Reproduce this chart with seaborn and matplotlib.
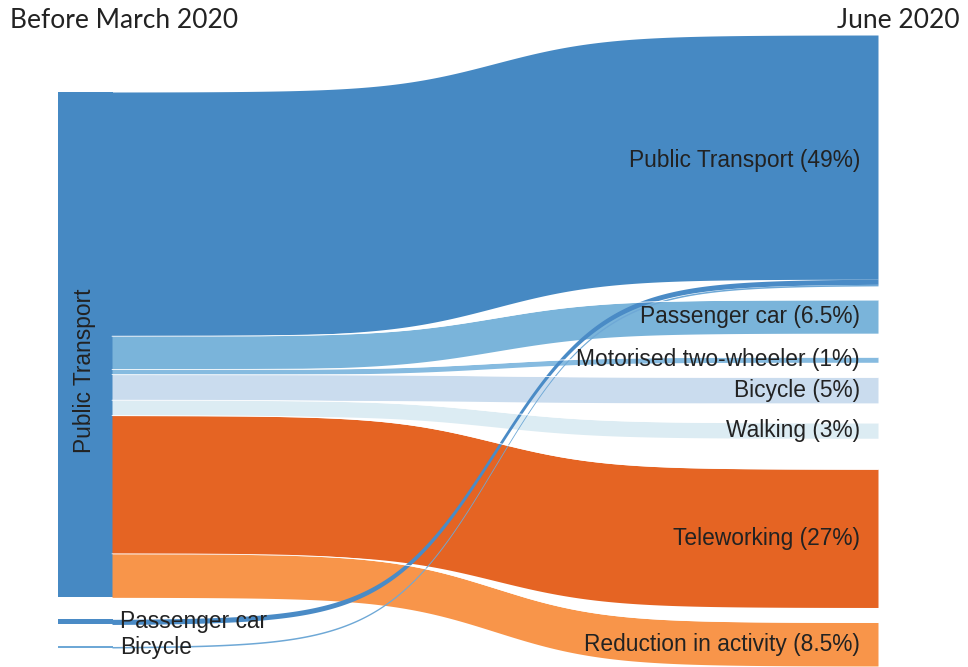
import numpy as np
import matplotlib.pyplot as plt
import seaborn as sns

# --- Datos ---
LEFT_TITLE = "Before March 2020"
RIGHT_TITLE = "June 2020"
sources = ["Public Transport", "Passenger car", "Bicycle"]
targets = ["Public Transport", "Passenger car", "Motorised two-wheeler",
           "Bicycle", "Walking", "Teleworking", "Reduction in activity"]
# share (%) going from each "before" mode to each "June" mode
from_public = [47.7, 6.5, 1.0, 5.0, 3.0, 27.0, 8.5]
from_car = [1.0, 0, 0, 0, 0, 0, 0]
from_bicycle = [0.3, 0, 0, 0, 0, 0, 0]

target_colors = ["#4689c3", "#7ab4da", "#86bbe0", "#cadcee", "#dcecf3", "#e56423", "#f8954a"]
source_colors = ["#4689c3", "#4a8bc6", "#6ea8d6"]

# --- Layout (pixels) ---
SCALE = 5.12          # px per %
X_NODE_L, X_FLOW_L, X_FLOW_R = 58, 112, 878
LEFT_TOP, LEFT_GAP = 92, 22
RIGHT_TOP = 35
RIGHT_GAPS = [14, 24, 15, 20, 31, 15]
CURVE_K = 14          # steepness of the link curves
FONT = "Liberation Sans"
FS = 16.4


def link_curve(x0, x1, y0, y1, n=300):
    # smooth S-shaped link, flat at both ends
    s = np.linspace(0, 1, n)
    f = 1 / (1 + np.exp(-CURVE_K * (s - 0.5)))
    f = (f - f[0]) / (f[-1] - f[0])
    return x0 + (x1 - x0) * s, y0 + (y1 - y0) * f


def main():
    sns.set_style("white")
    flows = np.array([from_public, from_car, from_bicycle])
    src_tot = flows.sum(axis=1)
    tgt_tot = flows.sum(axis=0)

    # node positions
    src_y = [LEFT_TOP]
    for v in src_tot[:-1]:
        src_y.append(src_y[-1] + v * SCALE + LEFT_GAP)
    tgt_y = [RIGHT_TOP]
    for v, g in zip(tgt_tot[:-1], RIGHT_GAPS):
        tgt_y.append(tgt_y[-1] + v * SCALE + g)

    fig = plt.figure(figsize=(9.68, 6.67), dpi=100)
    ax = fig.add_axes([0, 0, 1, 1])
    ax.set_xlim(0, 968)
    ax.set_ylim(667, 0)
    ax.axis("off")

    # source node bars
    for i, name in enumerate(sources):
        ax.fill_between([X_NODE_L, X_FLOW_L + 1], src_y[i], src_y[i] + src_tot[i] * SCALE,
                        color=source_colors[i], lw=0)

    # flows
    src_off = list(src_y)
    tgt_off = list(tgt_y)
    for i in range(len(sources)):
        for j in range(len(targets)):
            v = flows[i, j]
            if v <= 0:
                continue
            h = v * SCALE
            x, y_top = link_curve(X_FLOW_L, X_FLOW_R, src_off[i], tgt_off[j])
            color = target_colors[j] if i == 0 else source_colors[i]
            ax.fill_between(x, y_top, y_top + h, color=color, lw=0)
            if i == 0 and j > 0:
                ax.plot(x, y_top, color="white", lw=0.6)
            src_off[i] += h
            tgt_off[j] += h

    # labels
    for j, name in enumerate(targets):
        yc = tgt_y[j] + tgt_tot[j] * SCALE / 2
        ax.text(X_FLOW_R - 18, yc, f"{name} ({round(tgt_tot[j], 1):g}%)",
                ha="right", va="center", fontsize=FS, family=FONT, color="#222222")

    ax.text((X_NODE_L + X_FLOW_L) / 2, src_y[0] + src_tot[0] * SCALE / 2 + 26, sources[0],
            rotation=90, ha="center", va="center", fontsize=FS, family=FONT, color="#222222")
    for i in range(1, len(sources)):
        yc = src_y[i] + src_tot[i] * SCALE / 2
        ax.text(X_FLOW_L + 8, yc, sources[i], ha="left", va="center",
                fontsize=FS, family=FONT, color="#222222")

    ax.text(10, 20, LEFT_TITLE, ha="left", va="center", fontsize=19, family="Lato", color="#222222")
    ax.text(960, 20, RIGHT_TITLE, ha="right", va="center", fontsize=19, family="Lato", color="#222222")

    fig.savefig("out.png", dpi=100)


if __name__ == "__main__":
    main()
